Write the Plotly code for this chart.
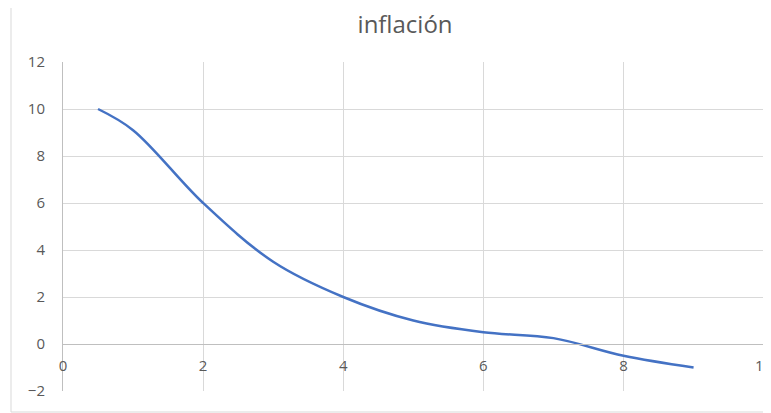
import plotly.graph_objects as go

x_vals = [0.5, 1, 2, 3, 4, 5, 6, 7, 8, 9]
y_vals = [10, 9.1, 6, 3.5, 2, 1, 0.5, 0.25, -0.5, -1]
x_ticks = [0, 2, 4, 6, 8, 10]
y_ticks = [-2, 0, 2, 4, 6, 8, 10, 12]
title_text = "inflación"

fig = go.Figure()
fig.add_trace(go.Scatter(
    x=x_vals, y=y_vals, mode="lines",
    line=dict(color="#4472C4", width=2.5, shape="spline", smoothing=1.0),
    showlegend=False,
))

grid = "#d9d9d9"
txt = "#595959"
fig.update_layout(
    width=763, height=405,
    margin=dict(l=55, r=7, t=54, b=22, autoexpand=False),
    paper_bgcolor="white", plot_bgcolor="white",
    font=dict(family="Open Sans", color=txt, size=15),
    title=dict(text=title_text, x=0.488, xref="paper", xanchor="center",
               y=0.958, yanchor="middle",
               font=dict(size=24, color=txt)),
    xaxis=dict(range=[0, 10.005], tickvals=x_ticks, showgrid=True, gridcolor=grid,
               gridwidth=1, zeroline=False, showline=True, linecolor="#bfbfbf",
               linewidth=1, anchor="free", position=2/14, ticks="",
               ticklabelstandoff=8, ticklabeloverflow="allow", automargin=False,
               tickfont=dict(size=15, color=txt)),
    yaxis=dict(range=[-2, 12], tickvals=y_ticks, showgrid=True, gridcolor=grid,
               gridwidth=1, zeroline=False, showline=True, linecolor="#bfbfbf",
               linewidth=1, ticks="", ticklabelstandoff=14, automargin=False,
               tickfont=dict(size=15, color=txt)),
)
fig.add_shape(type="rect", xref="paper", yref="paper",
              x0=(3 - 55) / 701, x1=1.2, y0=-(404 - 383) / 329, y1=1.3,
              line=dict(color="#d9d9d9", width=1), layer="below")
fig.write_html("out.html")
